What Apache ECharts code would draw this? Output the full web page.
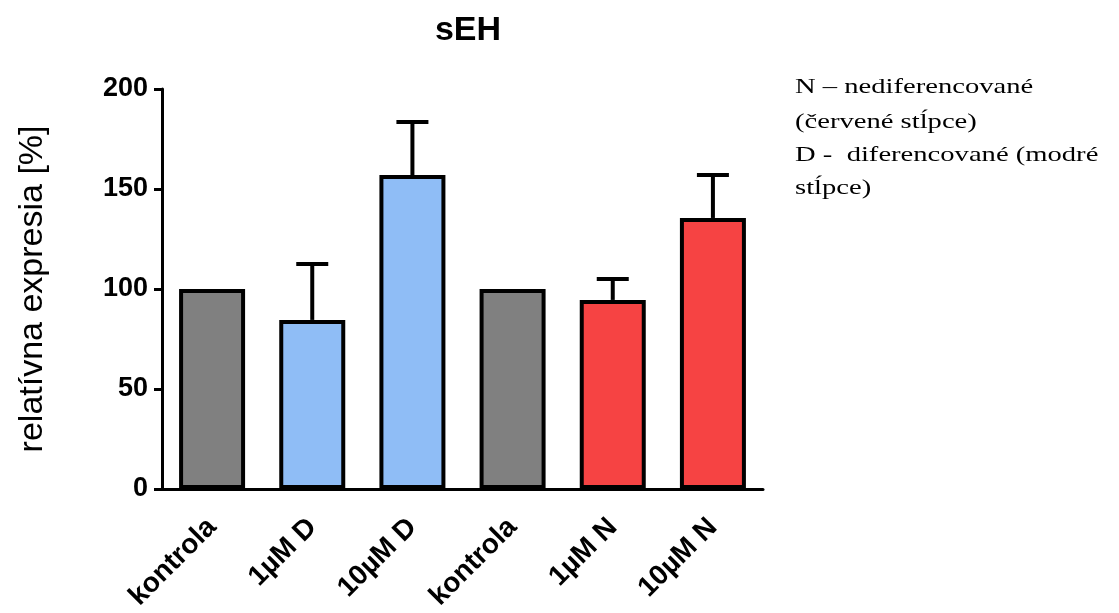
<!DOCTYPE html>
<html>
<head>
<meta charset="utf-8">
<script src="https://cdn.jsdelivr.net/npm/echarts@6/dist/echarts.min.js"></script>
<style>
html,body{margin:0;padding:0;background:#fff;}
#chart{width:1119px;height:613px;}
</style>
</head>
<body>
<div id="chart"></div>
<script>
const categories = ['kontrola', '1µM D', '10µM D', 'kontrola', '1µM N', '10µM N'];
const means = [100, 84.5, 157, 100, 94.5, 135.5];
const errors = [0, 28, 26.5, 0, 10.5, 21.5];
const barColors = ['#808080', '#8fbdf6', '#8fbdf6', '#808080', '#f64343', '#f64343'];
const yTicks = { min: 0, max: 200, interval: 50 };
const titleText = 'sEH';
const yAxisTitle = 'relatívna expresia [%]';
const noteLines = ['N – nediferencované', '(červené stĺpce)', 'D -  diferencované (modré', 'stĺpce)'];

const chart = echarts.init(document.getElementById('chart'), null, { renderer: 'canvas' });

const errData = categories.map((c, i) => [i, means[i], errors[i]]);

const noteY = [88, 123, 156, 189];

const option = {
  backgroundColor: '#ffffff',
  animation: false,
  title: {
    text: titleText,
    left: 463,
    top: 9,
    textAlign: 'center',
    textStyle: { fontFamily: 'Liberation Sans', fontWeight: 'bold', fontSize: 34, color: '#000' }
  },
  grid: { left: 162, right: 356, top: 89, bottom: 124, containLabel: false },
  xAxis: {
    type: 'category',
    data: categories,
    axisLine: { lineStyle: { color: '#000', width: 3 } },
    axisTick: { alignWithLabel: true, length: 8, lineStyle: { color: '#000', width: 3 } },
    axisLabel: {
      rotate: 45,
      margin: 34,
      fontFamily: 'Liberation Sans',
      fontWeight: 'bold',
      fontSize: 28,
      color: '#000'
    }
  },
  yAxis: {
    type: 'value',
    min: yTicks.min,
    max: yTicks.max,
    interval: yTicks.interval,
    name: yAxisTitle,
    nameLocation: 'middle',
    nameGap: 112,
    nameRotate: 90,
    nameTextStyle: { fontFamily: 'Liberation Sans', fontSize: 34, color: '#000' },
    splitLine: { show: false },
    axisLine: { show: true, lineStyle: { color: '#000', width: 3 } },
    axisTick: { show: true, length: 8, lineStyle: { color: '#000', width: 3 } },
    axisLabel: {
      margin: 14,
      fontFamily: 'Liberation Sans',
      fontWeight: 'bold',
      fontSize: 27,
      color: '#000'
    }
  },
  series: [
    {
      type: 'bar',
      barWidth: 66,
      data: means.map((v, i) => ({
        value: v,
        itemStyle: { color: barColors[i], borderColor: '#000', borderWidth: 4 }
      })),
      z: 2
    },
    {
      type: 'custom',
      data: errData,
      z: 1,
      renderItem: function (params, api) {
        const x = api.value(0);
        const m = api.value(1);
        const e = api.value(2);
        if (!e) return null;
        const base = api.coord([x, m]);
        const top = api.coord([x, m + e]);
        const hw = 16;
        return {
          type: 'group',
          children: [
            { type: 'line', shape: { x1: base[0], y1: base[1], x2: top[0], y2: top[1] },
              style: { stroke: '#000', lineWidth: 4 } },
            { type: 'line', shape: { x1: top[0] - hw, y1: top[1], x2: top[0] + hw, y2: top[1] },
              style: { stroke: '#000', lineWidth: 4 } }
          ]
        };
      }
    }
  ],
  graphic: noteLines.map((t, i) => ({
    type: 'text',
    x: 795,
    y: noteY[i] - 12,
    scaleX: 1.3,
    style: { text: t, fontFamily: 'Liberation Serif', fontSize: 22, fill: '#000' }
  }))
};

chart.setOption(option);
</script>
</body>
</html>
